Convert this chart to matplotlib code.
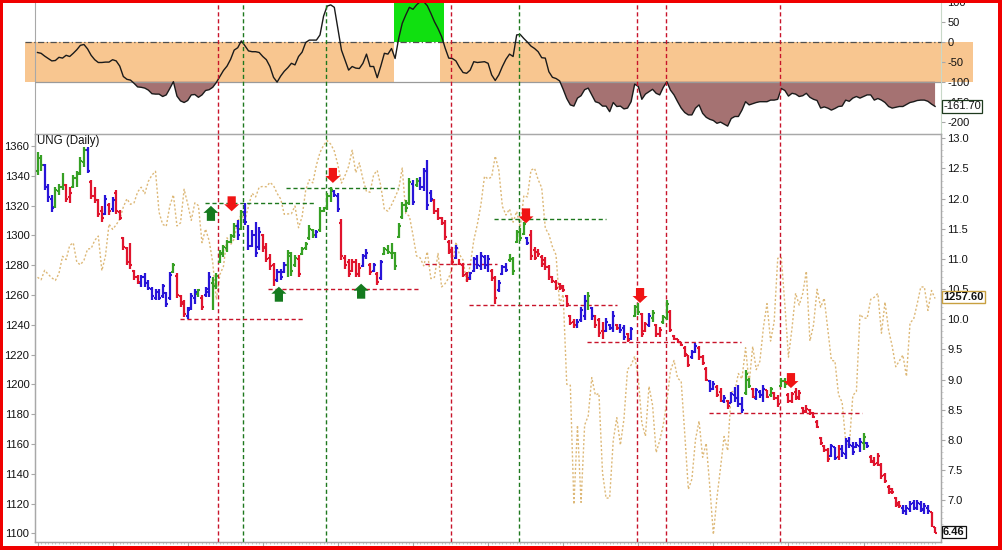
import matplotlib
matplotlib.use("Agg")
import matplotlib.pyplot as plt
from matplotlib.patches import Rectangle, Polygon
import numpy as np

plt.rcParams['font.family'] = ['Liberation Sans', 'DejaVu Sans']

# ---------------- data ----------------
spx_close = [
 1271.87,1270.20,1276.56,1273.85,1271.50,1269.75,1274.48,1285.96,1283.76,1293.24,1295.02,1281.92,1280.26,1283.35,1290.84,1291.18,1296.63,1299.54,1276.34,1286.12,
 1307.59,1304.03,1307.10,1310.87,1319.05,1324.57,1320.88,1321.87,1329.15,1332.32,1328.01,1336.32,1340.43,1343.01,1315.44,1307.40,1306.10,1319.88,1327.22,
 1306.33,1308.44,1330.97,1321.15,1310.13,1321.82,1320.02,1295.11,1304.28,1296.39,1281.87,1256.88,1273.72,1279.21,1298.38,1293.77,1297.54,1309.66,1313.80,1310.19,1319.44,1328.26,1325.83,
 1332.41,1332.87,1332.63,1335.54,1333.51,1328.17,1324.46,1314.16,1314.41,1314.52,1319.68,1305.14,1312.62,1330.36,1337.38,1335.25,1347.24,1355.66,1360.48,1363.61,
 1361.22,1356.62,1347.32,1335.10,1340.20,1346.29,1357.16,1342.08,1348.65,1337.77,1329.47,1328.98,1340.68,1343.60,1333.27,1317.37,1316.28,1320.47,1325.69,1331.10,1345.20,
 1314.55,1312.94,1300.16,1286.17,1284.94,1279.56,1289.00,1270.98,1271.83,1287.87,1265.42,1267.64,1271.50,1278.36,1295.52,1287.14,1283.50,1268.45,1280.10,1296.67,1307.41,1320.64,
 1339.67,1337.88,1339.22,1353.22,1343.80,1319.49,1313.64,1317.72,1308.87,1316.14,1305.44,1326.73,1325.84,1343.80,1345.02,1337.43,1331.94,1304.89,1300.67,1292.28,
 1286.94,1254.05,1260.34,1200.07,1199.38,1119.46,1172.53,1120.76,1172.64,1178.81,1204.49,1192.76,1193.89,1140.65,1123.53,1123.82,1162.35,1177.60,1159.27,1176.80,1210.08,1212.92,1218.89,
 1204.42,1173.97,1165.24,1198.62,1185.90,1154.23,1162.27,1172.87,1188.68,1209.11,1216.01,1204.09,1202.09,1166.76,1129.56,1136.43,1162.95,1175.38,1151.06,1160.40,1131.42,
 1099.23,1123.95,1144.03,1164.97,1155.46,1194.89,1195.54,1207.25,1203.66,1224.58,1200.86,1225.38,1209.88,1215.39,1238.25,1254.19,1229.05,1242.00,1284.59,1285.09,1253.30,
 1218.28,1237.90,1261.15,1253.23,1261.12,1275.92,1229.10,1239.69,1263.85,1251.78,1257.81,1236.91,1216.13,1215.65,1192.98,1188.04,1161.79,1158.67,1192.55,1195.19,1246.96,
 1244.58,1244.28,1257.08,1258.47,1261.01,1234.35,1255.19,1236.47,1225.73,1211.82,1215.75,1219.66,1205.35,1241.30,1243.72,1254.00,1265.33,1265.43,1249.64,1263.02,1257.60]

ung_high = [
 12.78,12.72,12.58,12.25,12.06,12.20,12.25,12.42,12.25,12.20,
 12.39,12.45,12.69,12.86,12.86,12.31,12.20,12.00,11.87,12.06,
 11.92,12.03,12.14,11.81,11.37,11.20,11.26,10.82,10.73,10.73,
 10.76,10.65,10.54,10.51,10.51,10.59,10.46,10.79,10.93,10.76,
 10.40,10.32,10.21,10.43,10.51,10.51,10.40,10.54,10.79,10.70,
 10.76,11.15,11.23,11.31,11.42,11.59,11.64,11.81,11.92,11.56,
 11.48,11.62,11.53,11.42,11.26,11.09,10.93,10.84,10.84,10.95,
 11.15,11.12,11.06,11.06,11.20,11.28,11.56,11.50,11.48,11.86,
 11.86,12.09,12.20,12.15,12.10,11.67,11.06,11.00,11.00,11.00,
 10.93,11.09,11.17,10.93,10.93,10.79,10.98,11.20,11.23,11.26,
 11.12,11.59,11.95,11.98,12.34,12.31,12.34,12.36,12.50,12.64,
 12.14,12.00,11.84,11.70,11.64,11.31,11.20,11.23,11.00,10.93,
 10.79,10.79,11.04,11.06,11.12,11.06,11.06,10.84,10.71,10.65,
 10.90,10.93,11.09,11.04,11.48,11.51,11.62,11.37,11.48,11.20,
 11.17,11.06,11.04,10.90,10.71,10.65,10.60,10.57,10.40,10.07,
 10.01,10.00,10.21,10.40,10.46,10.21,10.07,10.02,9.96,10.02,
 9.93,10.13,9.93,9.93,9.91,9.77,9.88,10.24,10.27,10.10,
 9.96,10.10,10.15,9.93,9.88,10.07,10.32,10.15,9.74,9.68,
 9.63,9.55,9.41,9.49,9.60,9.55,9.41,9.21,8.99,8.97,
 8.91,8.86,8.75,8.66,8.80,8.88,8.91,8.72,9.16,9.02,
 8.86,8.86,8.83,8.91,8.83,8.88,8.80,8.75,9.02,9.02,
 8.77,8.80,8.86,8.83,8.55,8.58,8.52,8.47,8.33,8.05,
 7.92,7.86,7.94,7.89,7.92,7.92,8.03,8.05,7.97,7.97,
 8.03,8.11,7.97,7.75,7.72,7.78,7.61,7.45,7.25,7.20,
 7.06,6.98,6.92,6.92,6.98,7.00,7.00,6.98,6.95,6.92,
 6.81,6.56]

ung_low = [
 12.39,12.45,12.14,11.95,11.78,11.84,12.06,12.14,11.95,11.92,
 12.17,12.20,12.39,12.53,12.42,12.00,11.92,11.70,11.62,11.73,
 11.73,11.78,11.75,11.64,11.15,10.90,10.84,10.65,10.59,10.54,
 10.54,10.48,10.32,10.32,10.32,10.35,10.21,10.32,10.76,10.35,
 10.21,10.04,10.01,10.15,10.26,10.37,10.15,10.37,10.37,10.15,
 10.51,10.93,11.04,11.12,11.26,11.34,11.31,11.48,11.56,11.15,
 11.20,11.04,11.15,11.12,10.95,10.82,10.55,10.62,10.65,10.76,
 10.70,10.72,10.87,10.70,11.06,11.15,11.31,11.34,11.34,11.45,
 11.78,11.81,11.95,12.03,11.78,10.98,10.84,10.70,10.79,10.70,
 10.70,10.87,11.00,10.73,10.79,10.57,10.65,11.06,11.09,11.00,
 10.82,11.34,11.67,11.78,11.89,11.89,12.20,12.14,12.12,11.81,
 11.95,11.75,11.64,11.56,11.31,11.09,10.90,11.00,10.90,10.70,
 10.62,10.65,10.79,10.84,10.82,10.84,10.79,10.63,10.26,10.46,
 10.73,10.79,10.95,10.73,11.26,11.29,11.40,11.23,10.98,10.98,
 11.04,10.87,10.82,10.65,10.60,10.49,10.49,10.46,10.21,9.90,
 9.85,9.85,9.96,9.99,10.15,9.99,9.85,9.71,9.68,9.79,
 9.82,9.79,9.82,9.77,9.66,9.63,9.66,10.04,10.07,9.71,
 9.79,9.88,9.96,9.71,9.71,9.93,9.99,9.79,9.66,9.60,
 9.55,9.38,9.21,9.35,9.44,9.33,9.24,8.97,8.80,8.83,
 8.72,8.63,8.61,8.52,8.61,8.63,8.55,8.44,8.75,8.86,
 8.69,8.66,8.69,8.63,8.69,8.72,8.66,8.55,8.88,8.86,
 8.61,8.61,8.66,8.66,8.44,8.44,8.41,8.36,8.19,7.92,
 7.80,7.64,7.72,7.67,7.67,7.72,7.69,7.86,7.75,7.86,
 7.80,7.83,7.86,7.61,7.56,7.56,7.36,7.28,7.11,7.11,
 6.89,6.87,6.78,6.76,6.81,6.84,6.84,6.81,6.78,6.78,
 6.56,6.45]

ung_open = [
 12.45,12.68,12.55,12.20,12.00,11.86,12.12,12.20,12.22,12.02,
 12.20,12.34,12.42,12.60,12.80,12.28,12.05,11.98,11.80,11.75,
 11.90,11.82,12.10,11.78,11.35,11.18,11.20,10.80,10.70,10.60,
 10.70,10.60,10.50,10.36,10.45,10.38,10.44,10.35,10.78,10.72,
 10.38,10.28,10.06,10.18,10.36,10.42,10.36,10.40,10.45,10.60,
 10.55,10.95,11.08,11.18,11.28,11.38,11.55,11.50,11.78,11.50,
 11.22,11.40,11.20,11.40,11.20,11.02,10.90,10.65,10.78,10.78,
 10.90,11.05,10.90,11.00,11.08,11.18,11.34,11.48,11.40,11.48,
 11.80,11.85,12.05,12.12,12.05,11.60,11.02,10.95,10.80,10.95,
 10.75,10.88,11.05,10.90,10.80,10.75,10.68,11.08,11.15,11.10,
 11.10,11.36,11.70,11.90,11.92,12.25,12.22,12.30,12.20,12.45,
 12.10,11.98,11.80,11.68,11.60,11.28,11.15,11.02,10.98,10.90,
 10.75,10.68,10.80,11.00,10.88,11.04,10.90,10.80,10.68,10.48,
 10.75,10.86,10.98,11.00,11.28,11.45,11.42,11.35,11.40,11.15,
 11.12,11.04,10.98,10.86,10.70,10.62,10.58,10.55,10.38,10.05,
 9.96,9.88,9.98,10.05,10.30,10.18,10.05,9.98,9.80,9.80,
 9.90,9.85,9.90,9.85,9.85,9.75,9.68,10.06,10.20,10.08,
 9.80,9.90,10.02,9.90,9.76,9.95,10.02,10.12,9.72,9.67,
 9.62,9.52,9.40,9.38,9.46,9.52,9.38,9.18,8.98,8.85,
 8.88,8.80,8.64,8.64,8.62,8.75,8.70,8.60,8.78,9.00,
 8.85,8.70,8.80,8.75,8.82,8.74,8.78,8.70,8.90,8.98,
 8.75,8.64,8.80,8.72,8.53,8.48,8.50,8.45,8.30,8.03,
 7.90,7.84,7.74,7.88,7.72,7.85,7.76,7.98,7.90,7.88,
 7.90,7.95,7.95,7.72,7.65,7.62,7.58,7.42,7.22,7.18,
 7.04,6.95,6.88,6.80,6.86,6.95,6.88,6.94,6.84,6.88,
 6.80,6.55]

ung_close = [
 12.70,12.55,12.20,12.02,11.85,12.15,12.20,12.38,12.00,12.10,
 12.34,12.40,12.62,12.80,12.46,12.05,11.98,11.75,11.68,12.00,
 11.80,11.98,11.80,11.68,11.20,10.95,10.90,10.70,10.62,10.70,
 10.60,10.52,10.38,10.45,10.36,10.55,10.25,10.74,10.90,10.40,
 10.25,10.08,10.15,10.38,10.45,10.48,10.20,10.50,10.70,10.55,
 10.72,11.10,11.20,11.28,11.38,11.55,11.40,11.78,11.62,11.22,
 11.40,11.10,11.45,11.18,11.00,10.88,10.60,10.78,10.70,10.90,
 11.10,10.80,11.02,10.75,11.16,11.25,11.50,11.40,11.44,11.80,
 11.84,12.05,12.15,12.06,11.82,11.05,10.90,10.75,10.95,10.75,
 10.85,11.05,11.10,10.78,10.90,10.62,10.95,11.16,11.12,11.22,
 10.88,11.55,11.90,11.85,12.28,11.95,12.30,12.20,12.45,11.90,
 12.00,11.80,11.68,11.60,11.36,11.12,10.95,11.18,10.92,10.74,
 10.66,10.76,11.00,10.90,11.05,10.90,11.00,10.68,10.35,10.60,
 10.86,10.82,11.06,10.80,11.45,11.35,11.58,11.27,11.05,11.02,
 11.08,10.92,10.86,10.70,10.63,10.52,10.52,10.48,10.25,9.94,
 9.90,9.96,10.16,10.30,10.38,10.05,9.90,9.78,9.75,9.96,
 9.86,10.05,9.85,9.82,9.70,9.66,9.84,10.20,10.12,9.76,
 9.92,10.05,10.10,9.75,9.82,10.04,10.25,9.82,9.68,9.62,
 9.57,9.42,9.25,9.45,9.56,9.38,9.28,9.00,8.84,8.92,
 8.75,8.67,8.70,8.56,8.76,8.70,8.60,8.50,9.10,8.90,
 8.72,8.82,8.75,8.85,8.72,8.85,8.70,8.60,8.98,8.92,
 8.64,8.76,8.70,8.78,8.47,8.52,8.44,8.38,8.22,7.95,
 7.84,7.68,7.90,7.70,7.86,7.78,7.98,7.92,7.80,7.92,
 7.96,8.05,7.90,7.64,7.60,7.74,7.40,7.32,7.14,7.13,
 6.92,6.90,6.82,6.88,6.94,6.88,6.96,6.85,6.90,6.82,
 6.60,6.46]

ung_state = ("ggbbbgggrr" "ggggbrrrrb" "rbrrrrrrrb" "bbbbbbbbgr" "rrbbbgrbbg"
             "ggggggbgbb" "bbbrrrrbbb" "gggrggggbg" "gggbbrrrrr" "rbbrbrbggg"
             "gggggbgbbb" "brrrrrrbrr" "rbbbbbbrrb" "bbgggggbrr" "rrrrrrrrrr"
             "rbbbgbrrrb" "bbrbbrbggr" "rbgrrggrrr" "rrrbbrrrbb" "rrbrbbbbgg"
             "rbbbrgrrgg" "rrrrrrrrrr" "rrbbrbbbbb" "bgbrrrrrrr" "rrbbbbbbbb" "rr")

cci = [
 -27,-29,-36,-42,-48,-47,-39,-41,-34,-37,
 -29,-20,-9,-7,-18,-34,-45,-52,-52,-51,
 -51,-45,-48,-61,-87,-94,-96,-104,-113,-114,
 -116,-121,-130,-131,-131,-137,-133,-117,-100,-136,
 -148,-152,-147,-133,-132,-139,-133,-122,-120,-114,
 -102,-87,-72,-61,-44,-21,-15,2,-10,-23,
 -25,-25,-27,-37,-45,-62,-89,-101,-86,-74,
 -65,-54,-58,-37,-26,-2,4,4,4,17,
 64,89,92,86,33,-21,-46,-71,-62,-66,
 -67,-54,-31,-62,-62,-90,-61,-29,-31,-17,
 -42,8,46,67,86,81,92,100,100,90,
 71,50,33,13,-16,-41,-42,-48,-64,-77,
 -79,-71,-50,-52,-51,-50,-54,-83,-97,-83,
 -62,-44,-31,-37,17,18,8,-1,-11,-17,
 -25,-40,-41,-75,-89,-92,-98,-119,-142,-158,
 -161,-141,-135,-120,-116,-133,-150,-153,-161,-161,
 -175,-152,-162,-161,-168,-166,-150,-106,-112,-144,
 -131,-125,-119,-129,-133,-114,-100,-121,-133,-150,
 -166,-177,-183,-183,-166,-158,-179,-189,-194,-197,
 -204,-201,-206,-211,-192,-187,-187,-171,-150,-158,
 -155,-152,-150,-150,-150,-146,-146,-144,-117,-122,
 -136,-129,-131,-137,-135,-129,-139,-144,-147,-166,
 -163,-166,-171,-167,-162,-161,-146,-149,-141,-137,
 -141,-137,-133,-133,-146,-142,-146,-152,-162,-166,
 -164,-162,-162,-157,-152,-150,-147,-146,-146,-149,
 -156,-161.7]

cci_ticks = [100, 50, 0, -50, -100, -150, -200]
spx_ticks = list(range(1100, 1361, 20))
ung_ticks = [6.5, 7.0, 7.5, 8.0, 8.5, 9.0, 9.5, 10.0, 10.5, 11.0, 11.5, 12.0, 12.5, 13.0]

# signal lines (bar index) and levels
vlines_red = [50.56, 115.6, 167.7, 175.8, 207.7]
vlines_green = [57.55, 80.76, 134.7]
# (start bar, end bar, level, colour)
levels = [(39.85, 74.2, 10.005, 'r'), (46.8, 77.9, 11.93, 'g'), (69.5, 100.8, 12.18, 'g'),
          (64.5, 106.4, 10.50, 'r'), (127.7, 159.0, 11.66, 'g'), (108.4, 128.5, 10.91, 'r'),
          (120.7, 162.0, 10.24, 'r'), (153.7, 196.7, 9.62, 'r'), (187.8, 230.6, 8.45, 'r')]
buy_arrows = [(48.5, 11.88), (67.5, 10.54), (90.5, 10.59)]
sell_arrows = [(54.3, 11.79), (82.6, 12.26), (136.6, 11.59), (168.5, 10.27), (210.7, 8.86)]

# ---------------- figure ----------------
W, H = 1002, 550
fig = plt.figure(figsize=(W / 100, H / 100), dpi=100)
fig.patch.set_facecolor('white')

def fx(px):
    return px / W

def fy(py):
    return 1 - py / H

X0, X1 = 35, 941
XL = ((X0 - 37.5) / 3.576, (X1 - 37.5) / 3.576)
def bx(px):
    return (px - 37.5) / 3.576

ax_t = fig.add_axes([fx(X0), fy(134), (X1 - X0) / W, 134 / H])
ax = fig.add_axes([fx(X0), fy(542), (X1 - X0) / W, (542 - 134) / H])
axr = ax.twinx()

n = len(ung_close)
idx = np.arange(n)
RED, BLUE, GREEN = '#E0142D', '#2814D8', '#36A024'
colmap = {'r': RED, 'b': BLUE, 'g': GREEN}
cols = [colmap[c] for c in ung_state]
VRED, VGREEN = '#C8142A', '#1E781E'
GRAY = '#A8A8A8'

# ---------- top panel ----------
ax_t.set_xlim(*XL)
ax_t.set_ylim(-230.75, 104.25)
ind = np.array(cci, dtype=float)
ORANGE = '#F8C690'
ax_t.add_patch(Rectangle((bx(25), -100), bx(394) - bx(25), 100, color=ORANGE, lw=0, clip_on=False, zorder=1))
ax_t.add_patch(Rectangle((bx(440), -100), bx(973) - bx(440), 100, color=ORANGE, lw=0, clip_on=False, zorder=1))
ax_t.add_patch(Rectangle((bx(394), 0), bx(444) - bx(394), 120, color='#10E010', lw=0, zorder=1))
ax_t.fill_between(idx, ind, -100, where=ind < -100, interpolate=True, color='#A57272', lw=0, zorder=2)
ax_t.plot([bx(25), XL[1]], [0, 0], color='#505050', lw=0.9, ls=(0, (5, 2, 1, 2)), clip_on=False, zorder=3)
ax_t.axhline(-100, color='#9A9A9A', lw=0.9, zorder=3)
ax_t.plot(idx, ind, color='#1A1A1A', lw=1.0, zorder=4)
for v in vlines_red:
    ax_t.axvline(v, color=VRED, lw=1.0, ls=(0, (3, 2)), zorder=5)
for v in vlines_green:
    ax_t.axvline(v, color=VGREEN, lw=1.0, ls=(0, (3, 2)), zorder=5)
ax_t.yaxis.tick_right()
ax_t.set_yticks(cci_ticks)
ax_t.set_yticklabels([str(t) for t in cci_ticks])
ax_t.tick_params(axis='y', length=3, width=0.8, color=GRAY, pad=1.5, labelsize=8, labelcolor='#111111')
ax_t.set_xticks([])
for s in ['top', 'bottom']:
    ax_t.spines[s].set_visible(False)
ax_t.spines['left'].set_color(GRAY)
ax_t.spines['right'].set_color('#C8D8C8')
ax_t.patch.set_alpha(0)

# ---------- main panel ----------
ax.set_xlim(*XL)
ax.set_ylim(1094.16, 1368.06)
axr.set_ylim(6.3085, 13.0713)
ax.plot(idx, spx_close, color='#DDB877', lw=1.0, ls=(0, (1.5, 1.5)), zorder=2)
for v in vlines_red:
    ax.axvline(v, color=VRED, lw=1.0, ls=(0, (3, 2)), zorder=3)
for v in vlines_green:
    ax.axvline(v, color=VGREEN, lw=1.0, ls=(0, (3, 2)), zorder=3)

for x0, x1, lv, c in levels:
    axr.plot([x0, x1], [lv, lv], color=VRED if c == 'r' else VGREEN, lw=1.0, ls=(0, (3, 2)), zorder=3)

axr.vlines(idx, ung_low, ung_high, colors=cols, lw=1.6, zorder=5)
axr.hlines(ung_open, idx - 0.55, idx, colors=cols, lw=1.5, zorder=5)
axr.hlines(ung_close, idx, idx + 0.55, colors=cols, lw=1.5, zorder=5)

px_v = 1 / 60.33
hw, sw = 2.1, 1.15
for cx, tip in buy_arrows:
    ymid = tip - 7 * px_v
    ybot = tip - 15 * px_v
    pts = [(cx, tip), (cx + hw, ymid), (cx + sw, ymid), (cx + sw, ybot),
           (cx - sw, ybot), (cx - sw, ymid), (cx - hw, ymid)]
    axr.add_patch(Polygon(pts, closed=True, color='#147A1E', lw=0, zorder=7))
for cx, tip in sell_arrows:
    ymid = tip + 7 * px_v
    ytop = tip + 15 * px_v
    pts = [(cx, tip), (cx + hw, ymid), (cx + sw, ymid), (cx + sw, ytop),
           (cx - sw, ytop), (cx - sw, ymid), (cx - hw, ymid)]
    axr.add_patch(Polygon(pts, closed=True, color='#F01414', lw=0, zorder=7))

ax.set_yticks(spx_ticks)
ax.set_yticklabels([str(t) for t in spx_ticks])
ax.tick_params(axis='y', length=3, width=0.8, color=GRAY, pad=1, labelsize=8, labelcolor='#111111')
axr.set_yticks(ung_ticks)
axr.set_yticklabels(['%.1f' % t for t in ung_ticks])
axr.set_yticks(np.arange(6.4, 13.05, 0.1), minor=True)
axr.tick_params(axis='y', which='major', length=3, width=0.8, color=GRAY, pad=1.5, labelsize=8, labelcolor='#111111')
axr.tick_params(axis='y', which='minor', length=1.5, width=0.6, color='#C8C8C8')
ax.set_xticks(idx[::21])
ax.set_xticks(idx, minor=True)
ax.tick_params(axis='x', which='major', length=3, color=GRAY, labelbottom=False)
ax.tick_params(axis='x', which='minor', length=1.5, color='#C0C0C0')
for a in (ax, axr):
    for s in a.spines.values():
        s.set_color(GRAY)
        s.set_linewidth(0.9)

fig.text(fx(37), fy(141), 'UNG (Daily)', fontsize=8.3, va='center', ha='left', color='#111111')

# value tags
fig.text(fx(943), fy(106.4), '-161.70', fontsize=8, va='center', ha='left', color='#111111',
         bbox=dict(boxstyle='square,pad=0.12', fc='white', ec='#1E3A1E', lw=0.9), zorder=20)
fig.text(fx(943), fy(297), '1257.60', fontsize=8, fontweight='bold', va='center', ha='left', color='#111111',
         bbox=dict(boxstyle='square,pad=0.12', fc='white', ec='#C8A040', lw=1.0), zorder=20)
fig.text(fx(943), fy(532), '6.46', fontsize=8, fontweight='bold', va='center', ha='left', color='#111111',
         bbox=dict(boxstyle='square,pad=0.12', fc='white', ec='#111111', lw=0.9), zorder=20)

# red frame
BR = '#F00000'
for (x, y, w, h) in [(0, 0, 3, H), (W - 4, 0, 4, H), (0, 0, W, 3), (0, H - 4, W, 4)]:
    fig.add_artist(Rectangle((fx(x), fy(y + h)), w / W, h / H, transform=fig.transFigure,
                             color=BR, lw=0, zorder=100))

fig.savefig('out.png', dpi=100, facecolor='white')
